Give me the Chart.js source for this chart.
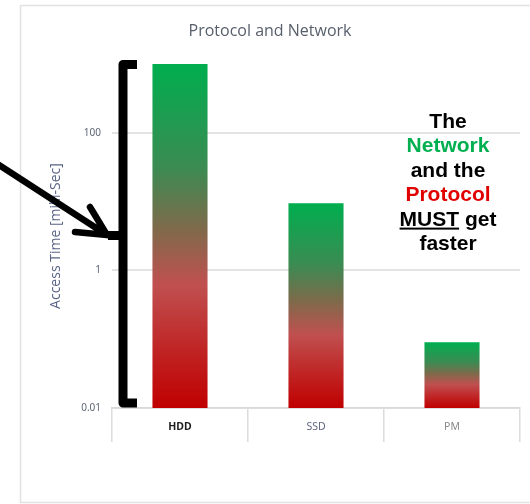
<!DOCTYPE html>
<html>
<head>
<meta charset="utf-8">
<script src="https://cdn.jsdelivr.net/npm/chart.js@4.4.1/dist/chart.umd.min.js"></script>
<style>
  html, body { margin: 0; padding: 0; background: #ffffff; overflow: hidden; }
  #wrap { position: relative; width: 530px; height: 504px; }
  canvas { display: block; }
</style>
</head>
<body>
<div id="wrap"><canvas id="chart" width="530" height="504"></canvas></div>
<script>
// Access time per storage technology (milli-seconds, log scale)
const categories = ['HDD', 'SSD', 'PM'];
const accessTime = [1000, 9.5, 0.09];
const yTickValues = [0.01, 1, 100];
const yTickLabels = ['0.01', '1', '100'];
const categoryColors = ['#1e1e1e', '#5f6680', '#8a8a8a'];
const categoryWeights = ['bold', 'normal', 'normal'];

// Callout text on the right: each line is a list of [text, colour, underline]
const calloutLines = [
  [['The', '#000000', false]],
  [['Network', '#00B050', false]],
  [['and the', '#000000', false]],
  [['Protocol', '#E00000', false]],
  [['MUST', '#000000', true], [' get', '#000000', false]],
  [['faster', '#000000', false]]
];

function barGradient(context) {
  const chart = context.chart;
  const area = chart.chartArea;
  if (!area || context.parsed == null) return '#00B050';
  const y = chart.scales.y;
  const top = y.getPixelForValue(context.parsed.y);
  const bottom = area.bottom;
  const g = chart.ctx.createLinearGradient(0, top, 0, bottom);
  g.addColorStop(0, '#00AE4F');
  g.addColorStop(0.3, '#3B8B52');
  g.addColorStop(0.47, '#7B6B4B');
  g.addColorStop(0.64, '#C05050');
  g.addColorStop(0.85, '#C02020');
  g.addColorStop(1, '#C00000');
  return g;
}

function drawFrame(chart) {
  // frame open on the right side
  const ctx = chart.ctx;
  ctx.strokeStyle = '#e2e2e2';
  ctx.lineWidth = 1.5;
  ctx.beginPath();
  ctx.moveTo(chart.width + 2, 5.5);
  ctx.lineTo(20.5, 5.5);
  ctx.lineTo(20.5, 502.5);
  ctx.lineTo(chart.width + 2, 502.5);
  ctx.stroke();
}

const decorations = {
  id: 'decorations',
  beforeDraw(chart) {
    const ctx = chart.ctx;
    ctx.save();
    ctx.fillStyle = '#ffffff';
    ctx.fillRect(0, 0, chart.width, chart.height);
    ctx.restore();
  },
  afterDraw(chart) {
    const ctx = chart.ctx;
    const a = chart.chartArea;
    ctx.save();

    // keep the strip right of the plot clean, then draw the frame
    ctx.fillStyle = '#ffffff';
    ctx.fillRect(a.right + 2, 0, chart.width - a.right - 2, chart.height);
    drawFrame(chart);

    // bracket spanning the axis
    const bx = a.left + 11;
    ctx.strokeStyle = '#000000';
    ctx.lineWidth = 9;
    ctx.lineJoin = 'round';
    ctx.lineCap = 'butt';
    ctx.beginPath();
    ctx.moveTo(bx + 14, a.top + 0.5);
    ctx.lineTo(bx, a.top + 0.5);
    ctx.lineTo(bx, a.bottom - 5);
    ctx.lineTo(bx + 14, a.bottom - 5);
    ctx.stroke();
    const midY = (a.top + a.bottom) / 2 - 1;
    ctx.fillStyle = '#000000';
    ctx.fillRect(bx - 15, midY - 4, 16, 9);

    // arrow pointing at the bracket
    const tipX = bx - 16, tipY = midY;
    ctx.lineWidth = 6.5;
    ctx.lineCap = 'round';
    ctx.beginPath();
    ctx.moveTo(-4, 163);
    ctx.lineTo(tipX, tipY);
    ctx.moveTo(tipX - 17, tipY - 28);
    ctx.lineTo(tipX, tipY);
    ctx.lineTo(tipX - 32, tipY - 3);
    ctx.stroke();

    // callout text
    const cx = a.right - 72;
    let baseY = a.top + 64;
    ctx.font = 'bold 21px "Liberation Sans", Arial, sans-serif';
    ctx.textBaseline = 'alphabetic';
    ctx.textAlign = 'left';
    calloutLines.forEach((line) => {
      const total = line.reduce((s, seg) => s + ctx.measureText(seg[0]).width, 0);
      let x = cx - total / 2;
      line.forEach(([text, color, underline]) => {
        const w = ctx.measureText(text).width;
        ctx.fillStyle = color;
        ctx.fillText(text, x, baseY);
        if (underline) {
          ctx.fillRect(x, baseY + 2, w, 2);
        }
        x += w;
      });
      baseY += 24.4;
    });
    ctx.restore();
  }
};

new Chart(document.getElementById('chart'), {
  type: 'bar',
  data: {
    labels: categories,
    datasets: [{
      data: accessTime,
      backgroundColor: barGradient,
      borderWidth: 0,
      barPercentage: 0.405,
      categoryPercentage: 1
    }]
  },
  options: {
    responsive: false,
    animation: false,
    devicePixelRatio: 1,
    layout: { padding: { left: 20, right: 10, top: 5, bottom: 0 } },
    plugins: {
      legend: { display: false },
      tooltip: { enabled: false },
      title: {
        display: true,
        text: 'Protocol and Network',
        color: '#58606c',
        font: { family: '"Open Sans", sans-serif', size: 16, weight: 'normal', lineHeight: 1.2 },
        padding: { top: 16.4, bottom: 23.4 }
      }
    },
    scales: {
      x: {
        grid: {
          display: true,
          offset: true,
          drawOnChartArea: false,
          drawTicks: true,
          tickLength: 34,
          color: '#dcdcdc',
          lineWidth: 1.5
        },
        border: { display: true, color: '#d9d9d9', width: 1.5 },
        ticks: {
          padding: -21,
          color: categoryColors,
          font: (c) => ({
            family: '"Noto Sans", sans-serif',
            size: 10.5,
            weight: categoryWeights[c.index] || 'normal'
          })
        },
        afterFit(scale) { scale.height = 96; }
      },
      y: {
        type: 'logarithmic',
        min: 0.01,
        max: 1000,
        grid: { color: '#e3e3e3', lineWidth: 2, drawTicks: false },
        border: { display: false },
        afterBuildTicks(scale) {
          scale.ticks = yTickValues.map(v => ({ value: v }));
        },
        ticks: {
          padding: 11,
          color: '#5c6474',
          font: { family: '"Noto Sans", sans-serif', size: 10 },
          callback: (value, index) => yTickLabels[index]
        },
        title: {
          display: true,
          text: 'Access Time [milli-Sec]',
          color: '#5a6486',
          font: { family: '"Open Sans", sans-serif', size: 14, lineHeight: 1.2 },
          padding: { top: 28, bottom: 0 }
        },
        afterFit(scale) { scale.width = 92; }
      }
    }
  },
  plugins: [decorations]
});
</script>
</body>
</html>
